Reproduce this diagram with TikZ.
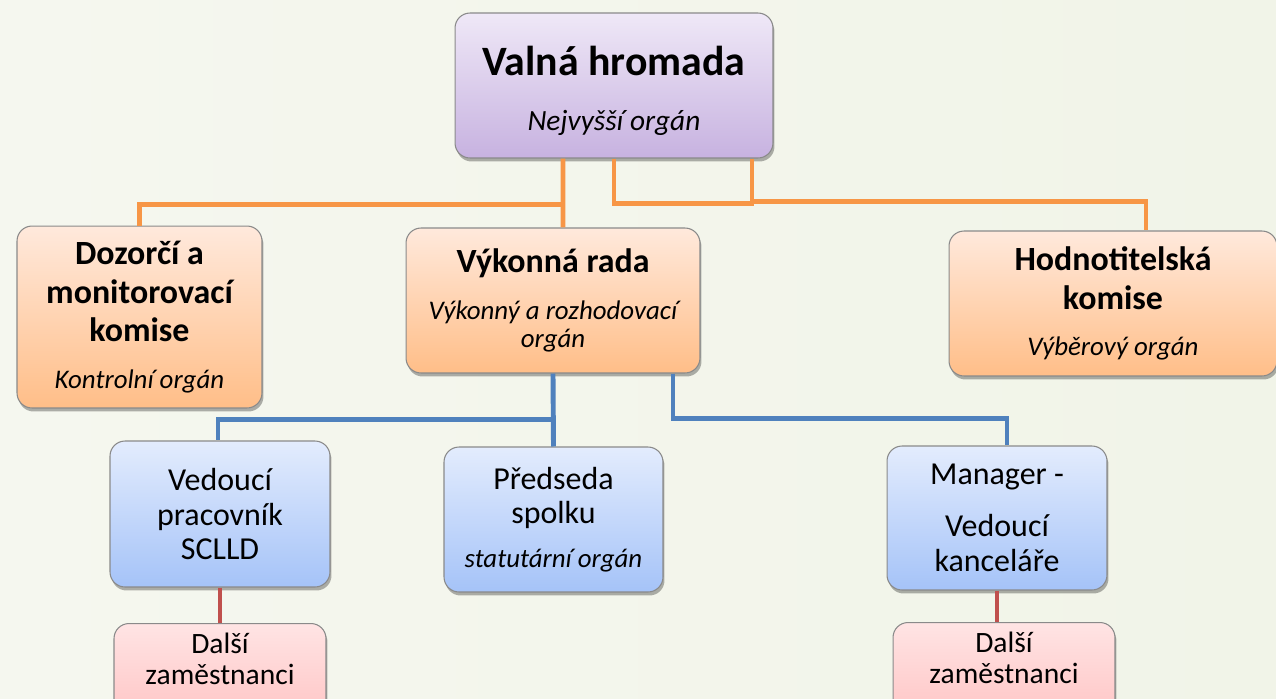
\documentclass[tikz,border=0pt]{standalone}
\usepackage{fontspec}
\setmainfont{Carlito}
\usetikzlibrary{shadows}

\definecolor{bgside}{HTML}{F5F7EF}
\definecolor{bgright}{HTML}{F1F4E8}
\definecolor{boxgray}{HTML}{8A8A8A}
\definecolor{vhtop}{HTML}{EFE8F7}
\definecolor{vhbot}{HTML}{C7B2E0}
\definecolor{ortop}{HTML}{FFE9DC}
\definecolor{orbot}{HTML}{FFBE88}
\definecolor{bltop}{HTML}{E3ECFD}
\definecolor{blbot}{HTML}{A5C3F8}
\definecolor{rdtop}{HTML}{FFE4E4}
\definecolor{rdbot}{HTML}{FFBDBD}
\definecolor{lineorange}{HTML}{F79646}
\definecolor{lineblue}{HTML}{4F81BD}
\definecolor{linered}{HTML}{C0504D}

\newcommand{\orgnote}[1]{{\normalfont\itshape\fontsize{15.3}{17}\selectfont #1}}

\begin{document}
\begin{tikzpicture}[x=0.02cm, y=-0.02cm]
  % Styles
  \tikzset{
    orgbox/.style = {draw=boxgray, line width=0.6pt, rounded corners=0.3cm, align=center, inner sep=0pt,
      drop shadow={shadow xshift=0.03cm, shadow yshift=-0.07cm, opacity=0.3, fill=black}},
    topbox/.style = {orgbox, top color=vhtop, bottom color=vhbot, font=\fontsize{23.8}{29.5}\selectfont\bfseries},
    bodybox/.style = {orgbox, top color=ortop, bottom color=orbot, font=\fontsize{19.3}{22}\selectfont\bfseries},
    staffbox/.style = {orgbox, top color=bltop, bottom color=blbot, font=\fontsize{18.2}{19.8}\selectfont},
    otherbox/.style = {orgbox, top color=rdtop, bottom color=rdbot, font=\fontsize{16.8}{18.1}\selectfont},
    oline/.style = {draw=lineorange, line width=2.8pt},
    bline/.style = {draw=lineblue, line width=2.8pt},
    rline/.style = {draw=linered, line width=2.3pt}
  }

  % Background
  \useasboundingbox (0,0) rectangle (1276,698);
  \clip (0,0) rectangle (1276,698);
  \shade[left color=bgside, middle color=white, right color=bgright] (0,0) rectangle (1276,698);

  % Top level
  \node[topbox, minimum width=6.36cm, minimum height=2.9cm] (valna) at (614,85.5) {\rule{0pt}{23pt}Valná hromada\\[2pt]{\normalfont\itshape\fontsize{16.7}{19}\selectfont Nejvyšší orgán}};

  % Bodies
  \node[bodybox, minimum width=4.9cm, minimum height=3.64cm] (dozorci) at (139.5,317) {Dozorčí a\\monitorovací\\komise\\[4.5pt]\orgnote{Kontrolní orgán}};
  \node[bodybox, minimum width=5.88cm, minimum height=2.9cm] (vykonna) at (553,300.5) {Výkonná rada\\[4.6pt]\orgnote{Výkonný a rozhodovací}\\[-6pt]\orgnote{orgán}};
  \node[bodybox, minimum width=6.56cm, minimum height=2.9cm] (hodno) at (1113,303.5) {Hodnotitelská\\komise\\[4pt]\orgnote{Výběrový orgán}};

  % Staff
  \node[staffbox, minimum width=4.4cm, minimum height=2.92cm] (vedouci) at (220,514) {Vedoucí\\pracovník\\SCLLD};
  \node[staffbox, minimum width=4.38cm, minimum height=2.9cm] (predseda) at (553.5,519.5) {Předseda\\spolku\\[5pt]\orgnote{statutární orgán}};
  \node[staffbox, minimum width=4.4cm, minimum height=2.88cm] (manager) at (997,518) {Manager -\\[10pt]Vedoucí\\kanceláře};

  % Other employees
  \node[otherbox, anchor=north, minimum width=4.24cm, inner ysep=0.18cm, text depth=1cm] (dalsi1) at (220,623) {Další\\zaměstnanci};
  \node[otherbox, anchor=north, minimum width=4.44cm, inner ysep=0.18cm, text depth=1cm] (dalsi2) at (1004,622) {Další\\zaměstnanci};

  % Connections
  \draw[oline] ([xshift=-1.02cm]valna.south) -- ([xshift=0.2cm]vykonna.north);
  \draw[oline] ([xshift=-1.02cm]valna.south) -- ++(0,46) -| (dozorci.north);
  \draw[oline] (valna.south) -- ++(0,45) -| ([xshift=2.76cm]valna.south);
  \draw[oline] ([xshift=2.76cm]valna.south) -- ++(0,43) -| ([xshift=0.66cm]hodno.north);

  \draw[bline] (vykonna.south) -- (predseda.north);
  \draw[bline] (vykonna.south) -- ++(0,46) -| ([xshift=-0.04cm]vedouci.north);
  \draw[bline] ([xshift=2.4cm]vykonna.south) -- ++(0,45) -| ([xshift=0.2cm]manager.north);

  \draw[rline] (vedouci.south) -- (dalsi1.north);
  \draw[rline] (manager.south) -- (manager.south |- dalsi2.north);

\end{tikzpicture}
\end{document}
